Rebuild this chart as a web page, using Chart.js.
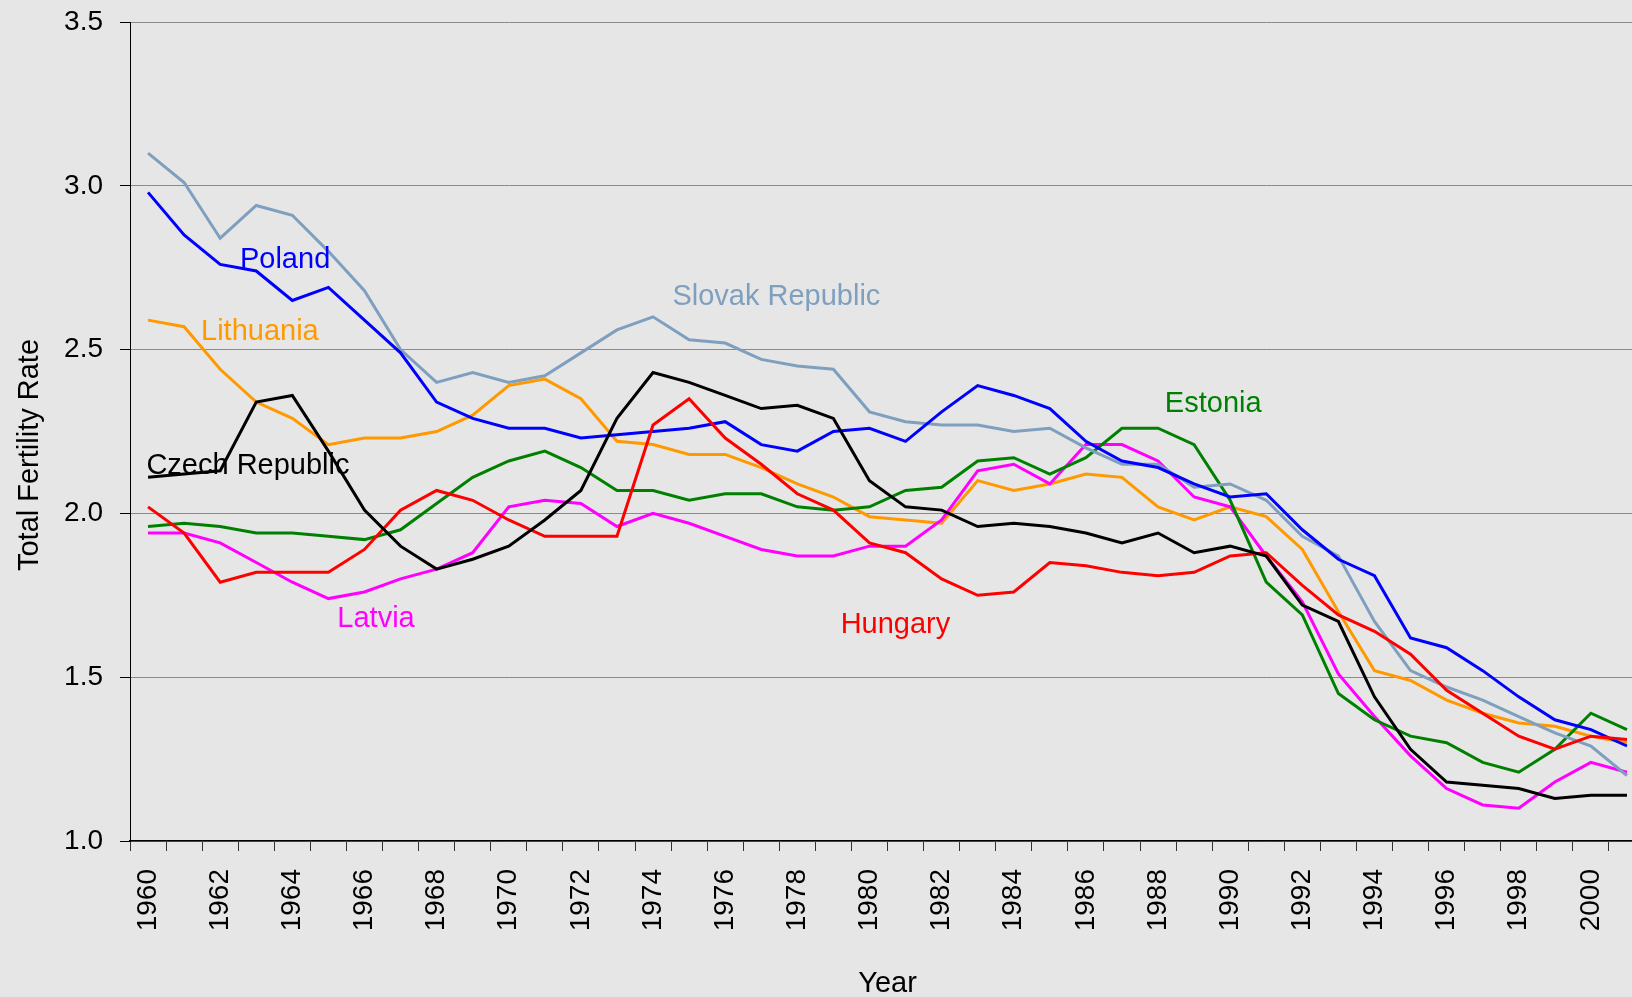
<!DOCTYPE html>
<html>
<head>
<meta charset="utf-8">
<script src="https://cdn.jsdelivr.net/npm/chart.js@4/dist/chart.umd.min.js"></script>
<style>
  html, body { margin: 0; padding: 0; background: #e6e6e6; overflow: hidden; width: 1632px; height: 997px; }
  #wrap { position: absolute; left: 0; top: 0; width: 1685px; height: 997px; }
  canvas { display: block; }
</style>
</head>
<body>
<div id="wrap"><canvas id="chart" width="1685" height="997"></canvas></div>
<script>
// ---------- data ----------
const years = ['1960','1961','1962','1963','1964','1965','1966','1967','1968','1969',
               '1970','1971','1972','1973','1974','1975','1976','1977','1978','1979',
               '1980','1981','1982','1983','1984','1985','1986','1987','1988','1989',
               '1990','1991','1992','1993','1994','1995','1996','1997','1998','1999',
               '2000','2001'];

const poland = [2.98,2.85,2.76,2.74,2.65,2.69,2.59,2.49,2.34,2.29,
                2.26,2.26,2.23,2.24,2.25,2.26,2.28,2.21,2.19,2.25,
                2.26,2.22,2.31,2.39,2.36,2.32,2.22,2.16,2.14,2.09,
                2.05,2.06,1.95,1.86,1.81,1.62,1.59,1.52,1.44,1.37,
                1.34,1.29];

const slovakRepublic = [3.10,3.01,2.84,2.94,2.91,2.80,2.68,2.50,2.40,2.43,
                        2.40,2.42,2.49,2.56,2.60,2.53,2.52,2.47,2.45,2.44,
                        2.31,2.28,2.27,2.27,2.25,2.26,2.20,2.15,2.15,2.08,
                        2.09,2.04,1.93,1.87,1.67,1.52,1.47,1.43,1.38,1.33,
                        1.29,1.20];

const lithuania = [2.59,2.57,2.44,2.34,2.29,2.21,2.23,2.23,2.25,2.30,
                   2.39,2.41,2.35,2.22,2.21,2.18,2.18,2.14,2.09,2.05,
                   1.99,1.98,1.97,2.10,2.07,2.09,2.12,2.11,2.02,1.98,
                   2.02,1.99,1.89,1.70,1.52,1.49,1.43,1.39,1.36,1.35,
                   1.32,1.30];

const czechRepublic = [2.11,2.12,2.13,2.34,2.36,2.19,2.01,1.90,1.83,1.86,
                       1.90,1.98,2.07,2.29,2.43,2.40,2.36,2.32,2.33,2.29,
                       2.10,2.02,2.01,1.96,1.97,1.96,1.94,1.91,1.94,1.88,
                       1.90,1.87,1.72,1.67,1.44,1.28,1.18,1.17,1.16,1.13,
                       1.14,1.14];

const hungary = [2.02,1.94,1.79,1.82,1.82,1.82,1.89,2.01,2.07,2.04,
                 1.98,1.93,1.93,1.93,2.27,2.35,2.23,2.15,2.06,2.01,
                 1.91,1.88,1.80,1.75,1.76,1.85,1.84,1.82,1.81,1.82,
                 1.87,1.88,1.78,1.69,1.64,1.57,1.46,1.39,1.32,1.28,
                 1.32,1.31];

const estonia = [1.96,1.97,1.96,1.94,1.94,1.93,1.92,1.95,2.03,2.11,
                 2.16,2.19,2.14,2.07,2.07,2.04,2.06,2.06,2.02,2.01,
                 2.02,2.07,2.08,2.16,2.17,2.12,2.17,2.26,2.26,2.21,
                 2.04,1.79,1.69,1.45,1.37,1.32,1.30,1.24,1.21,1.28,
                 1.39,1.34];

const latvia = [1.94,1.94,1.91,1.85,1.79,1.74,1.76,1.80,1.83,1.88,
                2.02,2.04,2.03,1.96,2.00,1.97,1.93,1.89,1.87,1.87,
                1.90,1.90,1.98,2.13,2.15,2.09,2.21,2.21,2.16,2.05,
                2.02,1.87,1.73,1.51,1.38,1.26,1.16,1.11,1.10,1.18,
                1.24,1.21];

const seriesNames = ['Czech Republic','Hungary','Poland','Slovak Republic','Estonia','Latvia','Lithuania'];
const yTitle = 'Total Fertility Rate';
const xTitle = 'Year';

// ---------- styles ----------
const FONT = '"Liberation Sans", Arial, Helvetica, sans-serif';
const colors = {
  'Czech Republic': '#000000',
  'Hungary': '#ff0000',
  'Poland': '#0000ff',
  'Slovak Republic': '#7f9fbf',
  'Estonia': '#008000',
  'Latvia': '#ff00ff',
  'Lithuania': '#ff9900'
};
const seriesData = {
  'Czech Republic': czechRepublic,
  'Hungary': hungary,
  'Poland': poland,
  'Slovak Republic': slovakRepublic,
  'Estonia': estonia,
  'Latvia': latvia,
  'Lithuania': lithuania
};
// in-chart series labels, anchored in data units (category index, value), text baseline
const labelAnchors = [
  { name: 'Poland',          idx: 3.80,  val: 2.750 },
  { name: 'Lithuania',       idx: 3.10,  val: 2.530 },
  { name: 'Slovak Republic', idx: 17.42, val: 2.637 },
  { name: 'Czech Republic',  idx: 2.77,  val: 2.121 },
  { name: 'Latvia',          idx: 6.32,  val: 1.654 },
  { name: 'Hungary',         idx: 20.72, val: 1.636 },
  { name: 'Estonia',         idx: 29.53, val: 2.311 }
];

const annotationPlugin = {
  id: 'annotations',
  afterDatasetsDraw(chart) {
    const ctx = chart.ctx;
    const xs = chart.scales.x, ys = chart.scales.y;
    ctx.save();
    ctx.font = '29px ' + FONT;
    ctx.textAlign = 'center';
    ctx.textBaseline = 'alphabetic';
    labelAnchors.forEach(a => {
      ctx.fillStyle = colors[a.name];
      ctx.fillText(a.name, xs.getPixelForValue(a.idx), ys.getPixelForValue(a.val));
    });
    ctx.restore();
  },
  afterDraw(chart) {
    const ctx = chart.ctx;
    const ca = chart.chartArea;
    ctx.save();
    ctx.font = '29px ' + FONT;
    ctx.fillStyle = '#000';
    ctx.textAlign = 'center';
    ctx.textBaseline = 'alphabetic';
    ctx.translate(38, (ca.top + ca.bottom) / 2 + 23.5);
    ctx.rotate(-Math.PI / 2);
    ctx.fillText(yTitle, 0, 0);
    ctx.restore();
  }
};

new Chart(document.getElementById('chart'), {
  type: 'line',
  data: {
    labels: years,
    datasets: seriesNames.map(n => ({
      label: n,
      data: seriesData[n],
      borderColor: colors[n],
      backgroundColor: colors[n],
      borderWidth: 3,
      pointRadius: 0,
      tension: 0,
      fill: false
    }))
  },
  options: {
    responsive: false,
    animation: false,
    devicePixelRatio: 1,
    layout: { padding: { left: 0, top: 22, right: 40, bottom: 0 } },
    plugins: { legend: { display: false }, tooltip: { enabled: false } },
    scales: {
      x: {
        type: 'category',
        offset: true,
        afterFit(scale) { scale.height = 156; scale.paddingLeft = 0; scale.paddingRight = 0; },
        grid: { display: true, drawOnChartArea: false, drawTicks: true, tickLength: 10, color: '#333', offset: true },
        border: { display: true, color: '#000', width: 1.5 },
        ticks: {
          autoSkip: false, minRotation: 90, maxRotation: 90, padding: 18,
          color: '#000', font: { family: FONT, size: 28 },
          callback: function (v, i) { return i % 2 === 0 ? years[i] : ''; }
        },
        title: { display: true, text: xTitle, color: '#000', font: { family: FONT, size: 29, lineHeight: 0.8 }, padding: { top: 0, bottom: 1 } }
      },
      y: {
        min: 1.0, max: 3.5,
        afterFit(scale) { scale.width = 130; scale.paddingTop = 0; scale.paddingBottom = 0; },
        grid: { color: '#8a8a8a', lineWidth: 1, tickColor: '#000', tickLength: 10, drawTicks: true },
        border: { display: true, color: '#000', width: 1 },
        ticks: {
          stepSize: 0.5, padding: 17, color: '#000', font: { family: FONT, size: 28 },
          callback: v => Number(v).toFixed(1)
        }
      }
    }
  },
  plugins: [annotationPlugin]
});
</script>
</body>
</html>
